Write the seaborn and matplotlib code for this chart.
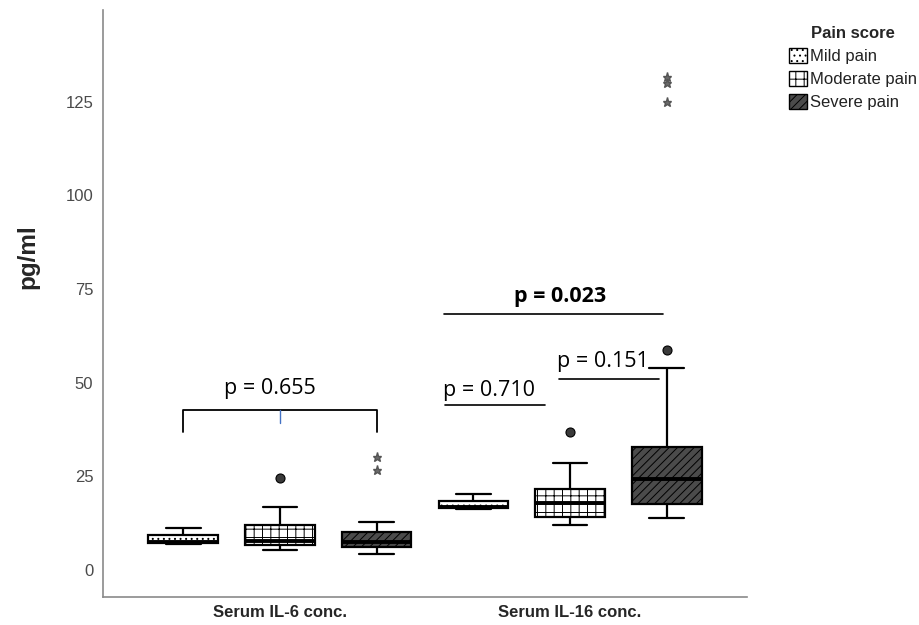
import numpy as np
import pandas as pd
import matplotlib
matplotlib.use("Agg")
import matplotlib.pyplot as plt
from matplotlib.patches import Patch
import seaborn as sns

# ---- data (pg/ml) -------------------------------------------------------
analytes = ["Serum IL-6 conc.", "Serum IL-16 conc."]
pain_levels = ["Mild pain", "Moderate pain", "Severe pain"]

# five-number summaries, ordered analyte-major then pain level
whisker_low = [7.0, 5.3, 4.2, 16.3, 12.0, 14.0]
quartile_1 = [7.1, 6.7, 6.2, 16.5, 14.2, 17.6]
medians = [7.4, 7.7, 7.6, 16.9, 17.9, 24.3]
quartile_3 = [9.35, 12.0, 10.2, 18.5, 21.6, 32.8]
whisker_high = [11.3, 16.9, 12.7, 20.3, 28.5, 54.0]
outliers = [[], [24.5], [26.7, 30.3], [], [36.9], [58.7, 124.9, 130.1, 131.5]]

y_ticks = [0, 25, 50, 75, 100, 125]

# ---- styling ------------------------------------------------------------
box_fills = ["white", "white", "#4b4b4b"]
box_hatches = ["...", "++", "////"]

sns.set_theme(style="white")
plt.rcParams["font.family"] = ["Liberation Sans", "DejaVu Sans"]
plt.rcParams["hatch.linewidth"] = 0.7


def summary_sample(lo, q1, med, q3, hi, extra):
    """Sample whose quartiles, median and whisker ends equal the summary."""
    return [lo] + [q1] * 5 + [med] * 5 + [q3] * 5 + [hi] + list(extra)


rows = []
for a_i, analyte in enumerate(analytes):
    for p_i, pain in enumerate(pain_levels):
        k = a_i * 3 + p_i
        for v in summary_sample(whisker_low[k], quartile_1[k], medians[k],
                                quartile_3[k], whisker_high[k], outliers[k]):
            rows.append({"analyte": analyte, "pain": pain, "value": v})
df = pd.DataFrame(rows)

fig = plt.figure(figsize=(9.19, 6.25), dpi=100)
ax = fig.add_axes([103 / 919, 1 - 597 / 625, (747 - 103) / 919, (597 - 10) / 625])

sns.boxplot(
    data=df, x="analyte", y="value", hue="pain",
    order=analytes, hue_order=pain_levels,
    palette=dict(zip(pain_levels, box_fills)), saturation=1,
    width=1.0, gap=0.28, dodge=True,
    linecolor="black", linewidth=1.6,
    medianprops=dict(linewidth=2.8, color="black"),
    flierprops=dict(marker="o", markersize=6.5, markerfacecolor="#3a3a3a",
                    markeredgecolor="black", markeredgewidth=0.8),
    legend=False, ax=ax,
)

# hatch each pain level; far outliers (beyond 3 IQR) shown as stars
box_centers = []
for cont, hatch in zip(ax.containers, box_hatches):
    centers = []
    for box, flier in zip(cont.boxes, cont.fliers):
        box.set_hatch(hatch)
        verts = box.get_path().vertices
        q1, q3 = verts[:, 1].min(), verts[:, 1].max()
        centers.append((verts[:, 0].min() + verts[:, 0].max()) / 2)
        fx, fy = np.asarray(flier.get_xdata()), np.asarray(flier.get_ydata())
        far = fy > q3 + 3 * (q3 - q1)
        flier.set_data(fx[~far], fy[~far])
        if far.any():
            ax.plot(fx[far], fy[far], ls="none", marker="*", markersize=6.5,
                    color="#6a6a6a", markeredgecolor="#555555")
    box_centers.append(centers)

ax.set_xlim(-0.61, 1.61)
ax.set_ylim(-7.2, 149.5)
ax.set_yticks(y_ticks)
ax.set_xlabel("")
ax.set_ylabel("")
ax.tick_params(axis="both", length=0)
ax.tick_params(axis="y", labelsize=12, labelcolor="#4a4a4a", pad=7)
ax.tick_params(axis="x", labelsize=12, pad=6)
for lbl in ax.get_xticklabels():
    lbl.set_fontweight("bold")
for side in ["top", "right"]:
    ax.spines[side].set_visible(False)
for side in ["left", "bottom"]:
    ax.spines[side].set_color("#8a8a8a")
    ax.spines[side].set_linewidth(1.2)

fig.text(28 / 919, 1 - 257 / 625, "pg/ml", rotation=90, ha="center", va="center",
         fontsize=17.5, fontweight="bold")

# ---- comparison annotations ---------------------------------------------
p_font = dict(family=["Open Sans", "DejaVu Sans"], fontsize=15.5, color="black")
left_il6, right_il6 = box_centers[0][0], box_centers[2][0]
ax.plot([left_il6, left_il6, right_il6, right_il6], [36.9, 42.7, 42.7, 36.9],
        color="black", lw=1.3, solid_joinstyle="round")
ax.plot([(left_il6 + right_il6) / 2] * 2, [42.7, 39.2], color="#4472c4", lw=1)
ax.text(-0.035, 46.9, "p = 0.655", ha="center", va="baseline", **p_font)

ax.plot([0.569, 0.914], [44.1, 44.1], color="black", lw=1.2)
ax.text(0.561, 46.5, "p = 0.710", ha="left", va="baseline", **p_font)

ax.plot([0.963, 1.308], [51.0, 51.0], color="black", lw=1.2)
ax.text(0.954, 54.3, "p = 0.151", ha="left", va="baseline", **p_font)

ax.plot([0.566, 1.322], [68.3, 68.3], color="black", lw=1.2)
ax.text(0.966, 71.5, "p = 0.023", ha="center", va="baseline", fontweight="bold",
        **p_font)

# ---- legend -------------------------------------------------------------
handles = [Patch(facecolor=f, edgecolor="black", hatch=h, linewidth=1.0)
           for f, h in zip(box_fills, box_hatches)]
leg = fig.legend(handles, pain_levels, title="Pain score", loc="upper left",
                 bbox_to_anchor=(789 / 919, 1 - 26 / 625), frameon=False,
                 fontsize=12, title_fontproperties=dict(weight="bold", size=12),
                 handlelength=1.1, handleheight=1.0, handletextpad=0.15,
                 labelspacing=0.42, borderaxespad=0, borderpad=0)
for txt in leg.get_texts():
    txt.set_color("#222222")

fig.savefig("out.png", dpi=100)
